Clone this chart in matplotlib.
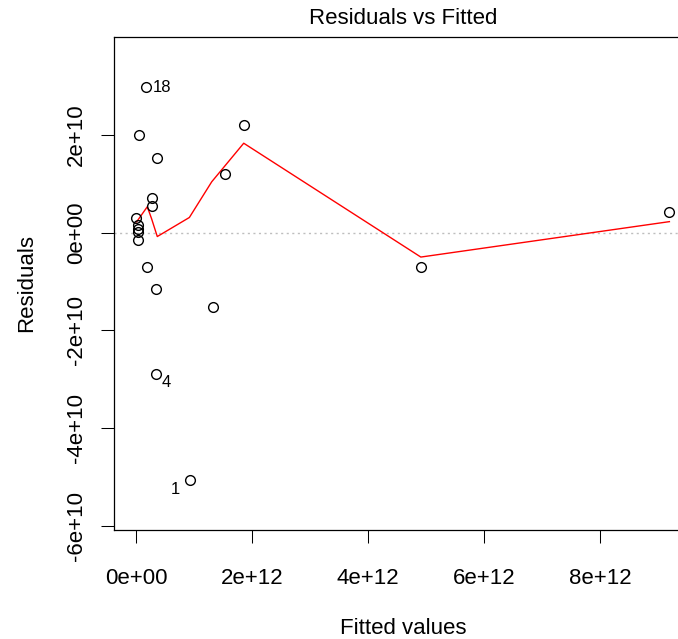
import matplotlib
matplotlib.use("Agg")
import matplotlib.pyplot as plt
import numpy as np

plt.rcParams['font.family'] = ['Liberation Sans', 'DejaVu Sans']

# Fitted values (x) and residuals (y)
fitted = np.array([0.167, 0.052, 0.367, 1.857, 1.534, 0.271, 0.271, 0.000, 0.026,
                   0.026, 0.026, 0.026, 0.195, 0.345, 1.322, 0.340, 0.931, 4.910, 9.190]) * 1e12
resid = np.array([2.99, 2.00, 1.535, 2.21, 1.195, 0.704, 0.536, 0.30, 0.158,
                  0.076, 0.014, -0.15, -0.696, -1.152, -1.527, -2.89, -5.06, -0.708, 0.43]) * 1e10

# Labelled observations
id_labels = ["18", "4", "1"]
id_index = [0, 15, 16]

# Smoothed (lowess) curve
smooth_x = np.array([0.01, 0.195, 0.27, 0.367, 0.92, 1.305, 1.857, 4.91, 9.195]) * 1e12
smooth_y = np.array([0.22, 0.53, 0.28, -0.08, 0.31, 1.04, 1.83, -0.50, 0.225]) * 1e10

x_ticks = np.array([0, 2e12, 4e12, 6e12, 8e12])
x_tick_labels = ["0e+00", "2e+12", "4e+12", "6e+12", "8e+12"]
y_ticks = np.array([-6e10, -4e10, -2e10, 0, 2e10])
y_tick_labels = ["-6e+10", "-4e+10", "-2e+10", "0e+00", "2e+10"]

W, H = 678, 639
fig = plt.figure(figsize=(W / 100, H / 100), dpi=100)
left, right, top, bottom = 114.3, 690.0, 36.7, 529.7
ax = fig.add_axes([left / W, 1 - bottom / H, (right - left) / W, (bottom - top) / H])

ax.axhline(0, color="#BEBEBE", linestyle=(0, (1.5, 2.5)), linewidth=1.0, zorder=1)
ax.plot(fitted, resid, linestyle="none", marker="o", markersize=7, markerfacecolor="none",
        markeredgecolor="black", markeredgewidth=1.0, zorder=3)
ax.plot(smooth_x, smooth_y, color="red", linewidth=1.0, zorder=2)

offsets = {"18": (5, -1, "left"), "4": (4, -6, "left"), "1": (-7, -7, "right")}
for lab, i in zip(id_labels, id_index):
    dx, dy, ha = offsets[lab]
    ax.annotate(lab, (fitted[i], resid[i]), xytext=(dx, dy), textcoords="offset points",
                ha=ha, va="center", fontsize=12)

ax.set_xlim(-0.374e12, 9.55e12)
ax.set_ylim(-6.08e10, 4.01e10)

ax.set_xticks(x_ticks)
ax.set_xticklabels(x_tick_labels)
ax.set_yticks(y_ticks)
ax.set_yticklabels(y_tick_labels, rotation=90, va="center")

ax.tick_params(axis="x", direction="out", length=9.5, width=0.75, pad=18, labelsize=16)
ax.tick_params(axis="y", direction="out", length=9.5, width=0.75, pad=10, labelsize=16)
for s in ax.spines.values():
    s.set_linewidth(0.9)
ax.spines['right'].set_visible(False)

fig.text(403 / W, 1 - 18 / H, "Residuals vs Fitted", ha="center", va="center", fontsize=16)
fig.text(403 / W, 1 - 628 / H, "Fitted values", ha="center", va="center", fontsize=16)
fig.text(27 / W, 1 - 283 / H, "Residuals", ha="center", va="center", rotation=90, fontsize=16)

fig.savefig("out.png", dpi=100)
